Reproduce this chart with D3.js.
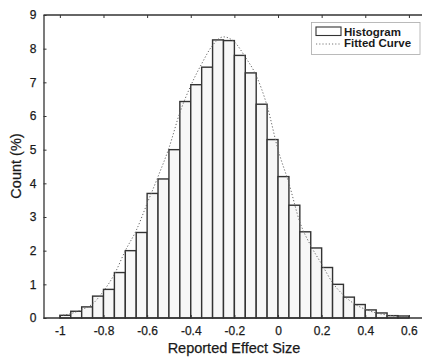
<!DOCTYPE html>
<html>
<head>
<meta charset="utf-8">
<script src="https://cdn.jsdelivr.net/npm/d3@7/dist/d3.min.js"></script>
<style>
  html, body { margin: 0; padding: 0; background: #fff; }
  svg { display: block; }
  text { font-family: "Liberation Sans", Arial, Helvetica, sans-serif; fill: #1a1a1a; }
</style>
</head>
<body>
<div id="chart"></div>
<script>
// ---- data ----
const binStarts = [-1.00,-0.95,-0.90,-0.85,-0.80,-0.75,-0.70,-0.65,-0.60,-0.55,-0.50,-0.45,-0.40,-0.35,-0.30,-0.25,
                   -0.20,-0.15,-0.10,-0.05,0.00,0.05,0.10,0.15,0.20,0.25,0.30,0.35,0.40,0.45,0.50,0.55];
const binWidth = 0.05;
const counts = [0.08,0.20,0.33,0.65,0.85,1.35,2.00,2.54,3.70,4.13,5.00,6.43,6.93,7.45,8.26,8.24,
                7.80,7.28,6.35,5.30,4.20,3.35,2.56,2.08,1.50,1.00,0.62,0.40,0.24,0.15,0.07,0.06];
const curveX = [-1.00,-0.95,-0.90,-0.85,-0.80,-0.75,-0.70,-0.65,-0.60,-0.55,-0.50,-0.45,-0.40,-0.35,-0.30,-0.25,
                -0.20,-0.15,-0.10,-0.05,0.00,0.05,0.10,0.15,0.20,0.25,0.30,0.35,0.40,0.45,0.50,0.55,0.60];
const curveY = [0.07,0.13,0.25,0.42,0.80,1.30,2.00,2.60,3.40,4.20,5.05,6.10,6.90,7.55,8.10,8.35,
                8.20,7.75,7.20,6.30,5.00,4.00,2.85,2.15,1.60,1.05,0.68,0.42,0.26,0.15,0.09,0.05,0.03];
const xTicks = [-1,-0.8,-0.6,-0.4,-0.2,0,0.2,0.4,0.6];
const xTickLabels = ["-1","-0.8","-0.6","-0.4","-0.2","0","0.2","0.4","0.6"];
const yTicks = [0,1,2,3,4,5,6,7,8,9];
const legendLabels = ["Histogram","Fitted Curve"];
const xLabel = "Reported Effect Size";
const yLabel = "Count (%)";

// ---- layout ----
const W = 422, H = 361;
const mLeft = 43.5, mRight = 422, mTop = 15, mBottom = 318;

const svg = d3.select("#chart").append("svg").attr("width", W).attr("height", H);

const x = d3.scaleLinear().domain([-1.075, 0.66]).range([mLeft, mRight]);
const y = d3.scaleLinear().domain([0, 9]).range([mBottom, mTop]);

// bars
svg.append("g").selectAll("rect").data(binStarts).join("rect")
  .attr("x", (d) => x(d))
  .attr("y", (d, i) => y(counts[i]))
  .attr("width", (d) => x(d + binWidth) - x(d))
  .attr("height", (d, i) => y(0) - y(counts[i]))
  .attr("fill", "#f7f7f7")
  .attr("stroke", "#333")
  .attr("stroke-width", 1.4);

// fitted curve
const line = d3.line().x((d) => x(d[0])).y((d) => y(d[1])).curve(d3.curveMonotoneX);
svg.append("path")
  .datum(curveX.map((v, i) => [v, curveY[i]]))
  .attr("d", line)
  .attr("fill", "none")
  .attr("stroke", "#666")
  .attr("stroke-width", 1)
  .attr("stroke-dasharray", "1.2,2");

// axes
const axStroke = "#333";
const bottomAxis = d3.axisBottom(x).tickValues(xTicks).tickFormat((d, i) => xTickLabels[i]).tickSizeInner(-3).tickSizeOuter(0).tickPadding(8);
const gB = svg.append("g").attr("transform", `translate(0,${mBottom})`).call(bottomAxis);
const topAxis = d3.axisTop(x).tickValues(xTicks).tickFormat("").tickSizeInner(-3).tickSizeOuter(0);
const gT = svg.append("g").attr("transform", `translate(0,${mTop})`).call(topAxis);
const leftAxis = d3.axisLeft(y).tickValues(yTicks).tickSizeInner(-3).tickSizeOuter(0).tickPadding(7);
const gL = svg.append("g").attr("transform", `translate(${mLeft},0)`).call(leftAxis);

[gB, gT, gL].forEach((g) => {
  g.select(".domain").attr("stroke", axStroke).attr("stroke-width", 1.3);
  g.selectAll(".tick line").attr("stroke", axStroke);
  g.selectAll("text").attr("font-size", 12).attr("fill", "#1a1a1a")
    .attr("stroke", "#1a1a1a").attr("stroke-width", 0.25)
    .style("font-family", "'Liberation Sans', Arial, sans-serif");
});
gB.selectAll(".domain").attr("d", `M${mLeft},0H${mRight}`);
gT.selectAll(".domain").attr("d", `M${mLeft},0H${mRight}`);

// axis titles
svg.append("text").attr("x", 234).attr("y", 353)
  .attr("text-anchor", "middle").attr("font-size", 14.5)
  .attr("stroke", "#1a1a1a").attr("stroke-width", 0.25).text(xLabel);
svg.append("text").attr("transform", `translate(21,166) rotate(-90)`)
  .attr("text-anchor", "middle").attr("font-size", 14.5)
  .attr("stroke", "#1a1a1a").attr("stroke-width", 0.25).text(yLabel);

// legend
const lg = svg.append("g");
lg.append("rect").attr("x", 311.5).attr("y", 22.5).attr("width", 108.5).attr("height", 32)
  .attr("fill", "#fff").attr("stroke", "#aaa").attr("stroke-width", 0.8);
lg.append("rect").attr("x", 316).attr("y", 27).attr("width", 25).attr("height", 8.5)
  .attr("fill", "#fff").attr("stroke", "#333").attr("stroke-width", 1.1);
lg.append("line").attr("x1", 316).attr("x2", 341).attr("y1", 44).attr("y2", 44)
  .attr("stroke", "#777").attr("stroke-width", 1).attr("stroke-dasharray", "1.2,2");
lg.selectAll("text.lab").data(legendLabels).join("text").attr("class", "lab")
  .attr("x", 344).attr("y", (d, i) => 35.5 + i * 11.5)
  .attr("font-size", 11.5).attr("font-weight", "bold").text((d) => d);
</script>
</body>
</html>
